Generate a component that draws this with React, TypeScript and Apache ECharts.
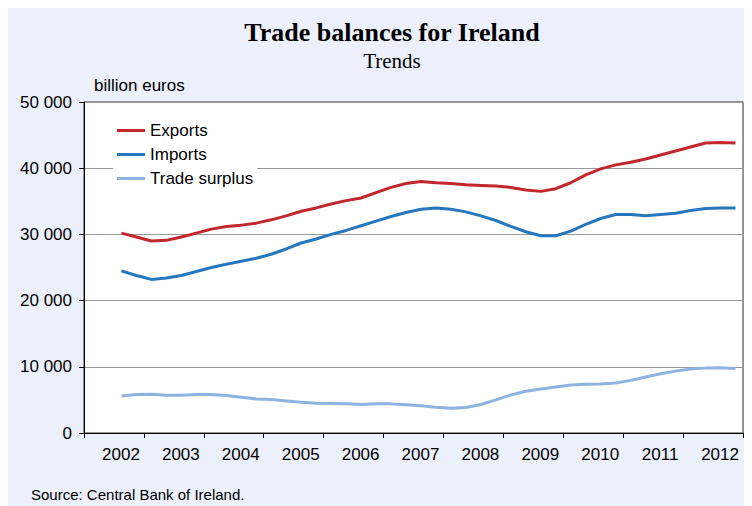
import React, { useEffect, useRef } from "react";
import * as echarts from "echarts";

// Year categories on the x axis
const years = ["2002", "2003", "2004", "2005", "2006", "2007", "2008", "2009", "2010", "2011", "2012"];
// Quarterly observations from 2002 Q3 to 2012 Q4
const firstYear = 2002;
const firstQuarter = 3;
// Values in million euros (axis labelled "billion euros" as in the source)
const exportsData = [
  30200, 29600, 29000, 29100, 29600, 30200, 30800, 31200, 31400, 31700,
  32200, 32800, 33500, 34000, 34600, 35100, 35500, 36300, 37100, 37700,
  38000, 37800, 37700, 37500, 37400, 37300, 37100, 36700, 36500, 36900,
  37800, 39000, 39900, 40500, 40900, 41400, 42000, 42600, 43200, 43800,
  43900, 43800,
];
const importsData = [
  24500, 23800, 23200, 23400, 23800, 24400, 25000, 25500, 25950, 26400,
  27000, 27800, 28700, 29300, 30000, 30600, 31300, 32000, 32700, 33300,
  33800, 34000, 33800, 33400, 32800, 32100, 31200, 30400, 29800, 29800,
  30500, 31500, 32400, 33000, 33000, 32800, 33000, 33200, 33600, 33900,
  34000, 34000,
];
const surplusData = [
  5600, 5800, 5850, 5700, 5700, 5800, 5800, 5650, 5400, 5150,
  5050, 4850, 4650, 4500, 4450, 4400, 4300, 4400, 4400, 4250,
  4100, 3900, 3750, 3850, 4300, 5000, 5750, 6300, 6650, 6950,
  7250, 7350, 7400, 7550, 7950, 8450, 8950, 9350, 9650, 9800,
  9850, 9750,
];
const yTicks = { min: 0, max: 50000, interval: 10000 };
const seriesNames = ["Exports", "Imports", "Trade surplus"];
const colors = ["#C1272D", "#2777BE", "#8DB4E1"];

function quarterPos(i: number): number {
  const q = firstQuarter - 1 + i;
  return firstYear + Math.floor(q / 4) + ((q % 4) + 0.5) / 4;
}

function toPairs(values: number[]): [number, number][] {
  return values.map((v, i) => [quarterPos(i), v]);
}

function fmt(v: number): string {
  const s = String(v);
  return s.replace(/\B(?=(\d{3})+(?!\d))/g, " ");
}

export default function App() {
  const ref = useRef<HTMLDivElement>(null);
  useEffect(() => {
    if (!ref.current) return;
    const chart = echarts.init(ref.current, null, { renderer: "svg" });
    const sans = "Liberation Sans, Arial, sans-serif";
    const serif = "Liberation Serif, Times New Roman, serif";
    const datasets = [exportsData, importsData, surplusData];
    chart.setOption({
      animation: false,
      backgroundColor: "#ECF0FA",
      textStyle: { fontFamily: sans },
      grid: {
        left: 76,
        top: 94,
        right: 9,
        bottom: 73,
        show: true,
        backgroundColor: "#ffffff",
        borderColor: "#333333",
        borderWidth: 1,
      },
      legend: {
        orient: "vertical",
        left: 105,
        top: 110,
        padding: [4, 4],
        backgroundColor: "#ffffff",
        icon: "rect",
        itemWidth: 28,
        itemHeight: 3,
        itemGap: 7,
        textStyle: { fontSize: 17, color: "#000", fontFamily: sans, lineHeight: 17, padding: [0, 0, 0, 0] },
        data: seriesNames,
      },
      xAxis: [
        {
          type: "category",
          data: years,
          boundaryGap: true,
          axisLine: { lineStyle: { color: "#000", width: 1 } },
          axisTick: { show: true, interval: 0, length: 5, lineStyle: { color: "#000" } },
          axisLabel: {
            interval: 0,
            fontSize: 17,
            color: "#000",
            margin: 13,
            fontFamily: sans,
            padding: [0, 0, 0, 14],
          },
          splitLine: { show: false },
        },
        {
          type: "value",
          min: 2002,
          max: 2013,
          show: false,
          splitLine: { show: false },
        },
      ],
      yAxis: {
        type: "value",
        min: yTicks.min,
        max: yTicks.max,
        interval: yTicks.interval,
        axisLine: { show: true, lineStyle: { color: "#000", width: 1 } },
        axisTick: { show: true, length: 5, lineStyle: { color: "#000" } },
        axisLabel: { fontSize: 17, color: "#000", margin: 12, fontFamily: sans, formatter: (v: number) => fmt(v) },
        splitLine: { show: true, lineStyle: { color: "#999999", width: 1 } },
      },
      series: datasets.map((d, i) => ({
        name: seriesNames[i],
        type: "line",
        xAxisIndex: 1,
        data: toPairs(d),
        showSymbol: false,
        symbol: "none",
        smooth: false,
        z: 3 - i + 2,
        lineStyle: { color: colors[i], width: 3 },
        itemStyle: { color: colors[i] },
      })),
      graphic: [
        {
          type: "text",
          x: 384,
          y: 24,
          style: {
            text: "Trade balances for Ireland",
            font: `bold 26px ${serif}`,
            fill: "#000",
            textAlign: "center",
            textVerticalAlign: "middle",
          },
        },
        {
          type: "text",
          x: 384,
          y: 53,
          style: {
            text: "Trends",
            font: `21px ${serif}`,
            fill: "#000",
            textAlign: "center",
            textVerticalAlign: "middle",
          },
        },
        {
          type: "text",
          x: 86,
          y: 77,
          style: {
            text: "billion euros",
            font: `17px ${sans}`,
            fill: "#000",
            textAlign: "left",
            textVerticalAlign: "middle",
          },
        },
        {
          type: "text",
          x: 23,
          y: 486,
          style: {
            text: "Source: Central Bank of Ireland.",
            font: `15px ${sans}`,
            fill: "#000",
            textAlign: "left",
            textVerticalAlign: "middle",
          },
        },
      ],
    });
    return () => chart.dispose();
  }, []);
  return <div ref={ref} style={{ width: 744, height: 498 }} />;
}
